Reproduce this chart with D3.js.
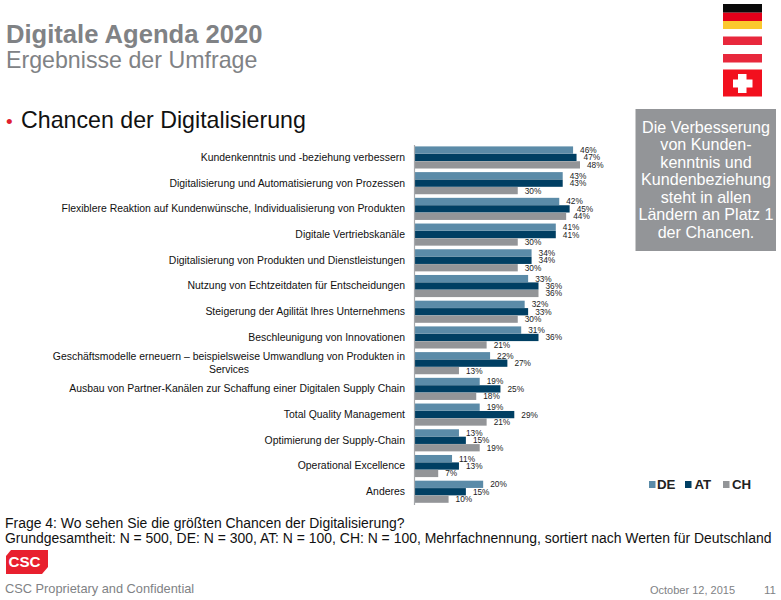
<!DOCTYPE html>
<html><head><meta charset="utf-8">
<script src="https://cdn.jsdelivr.net/npm/d3@7/dist/d3.min.js"></script>
<style>html,body{margin:0;padding:0;background:#fff}svg{display:block}text{font-family:"Liberation Sans",Arial,sans-serif}</style>
</head><body><svg id="c" width="781" height="600"></svg>
<script>
const categories=[
["Kundenkenntnis und -beziehung verbessern"],
["Digitalisierung und Automatisierung von Prozessen"],
["Flexiblere Reaktion auf Kundenwünsche, Individualisierung von Produkten"],
["Digitale Vertriebskanäle"],
["Digitalisierung von Produkten und Dienstleistungen"],
["Nutzung von Echtzeitdaten für Entscheidungen"],
["Steigerung der Agilität Ihres Unternehmens"],
["Beschleunigung von Innovationen"],
["Geschäftsmodelle erneuern – beispielsweise Umwandlung von Produkten in","Services"],
["Ausbau von Partner-Kanälen zur Schaffung einer Digitalen Supply Chain"],
["Total Quality Management"],
["Optimierung der Supply-Chain"],
["Operational Excellence"],
["Anderes"]];
const seriesNames=["DE","AT","CH"];
const DE=[46,43,42,41,34,33,32,31,22,19,19,13,11,20];
const AT=[47,43,45,41,34,36,33,36,27,25,29,15,13,15];
const CH=[48,30,44,30,30,36,30,21,13,18,21,19,7,10];
const colors=["#5b8ba8","#003f63","#939598"];
const values=[DE,AT,CH];
const calloutLines=["Die Verbesserung","von Kunden-","kenntnis und","Kundenbeziehung","steht in allen","Ländern an Platz 1","der Chancen."];

const svg=d3.select("#c");
const x=d3.scaleLinear().domain([0,48]).range([414,580]);
const y=d3.scaleBand().domain(d3.range(categories.length)).range([144.6,504.6]).paddingInner(0.14).paddingOuter(0.07);
const y1=d3.scaleBand().domain(d3.range(3)).range([0,y.bandwidth()]).paddingInner(0.02);

// header
const T=(px,py,s,size,fill,weight,anchor)=>svg.append("text").attr("x",px).attr("y",py).text(s).attr("font-size",size).attr("fill",fill).attr("font-weight",weight||"normal").attr("text-anchor",anchor||"start");
T(6,43,"Digitale Agenda 2020",25.6,"#808285","bold");
T(6,68,"Ergebnisse der Umfrage",23.2,"#808285");
T(6,128,"•",19,"#e0202f");
T(21,128,"Chancen der Digitalisierung",23.2,"#111");

// groups
const g=svg.selectAll("g.grp").data(categories).join("g").attr("class","grp").attr("transform",(d,i)=>`translate(0,${y(i)})`);
seriesNames.forEach((n,s)=>{
  g.append("rect").attr("x",x(0)).attr("y",y1(s)).attr("height",y1.bandwidth())
   .attr("width",(d,i)=>x(values[s][i])-x(0)).attr("fill",colors[s]);
  g.append("text").attr("x",(d,i)=>x(values[s][i])+7).attr("y",y1(s)+y1.bandwidth()/2+3)
   .text((d,i)=>values[s][i]+"%").attr("font-size",8.3).attr("fill","#222");
});
// category labels
g.each(function(d,i){
  const t=d3.select(this);
  const mid=y.bandwidth()/2;
  if(d.length===1){
    t.append("text").attr("x",405).attr("y",mid+3.4).attr("text-anchor","end").attr("font-size",10.45).attr("fill","#111").text(d[0]);
  }else{
    d.forEach((l,k)=>t.append("text").attr("x",k===0?405:229).attr("y",mid+3.4+(k-0.5)*12.4).attr("text-anchor",k===0?"end":"middle").attr("font-size",10.45).attr("fill","#111").text(l));
  }
});
// axis
svg.append("g").attr("transform",`translate(${x(0)},0)`).call(d3.axisLeft(y).tickValues([]).tickSize(0).tickSizeOuter(0)).call(a=>a.select(".domain").attr("stroke","#a7a9ac").attr("stroke-width",1.2));

// legend
const lx=[649,685,723], ltx=[657,694.5,732];
seriesNames.forEach((n,s)=>{
  svg.append("rect").attr("x",lx[s]).attr("y",481).attr("width",6.5).attr("height",7).attr("fill",colors[s]);
  T(ltx[s],489,n,13.3,"#222","bold");
});

// flags
const R=(a,b,w,h,f)=>svg.append("rect").attr("x",a).attr("y",b).attr("width",w).attr("height",h).attr("fill",f);
R(723,4,39,8.7,"#0a0a0a");R(723,12.7,39,8.3,"#e2001a");R(723,21,39,8,"#fbc82e");
R(723,36.5,39,8.5,"#e8283c");R(723,54,39,8.5,"#e8283c");
R(723,69.5,39,27,"#f2101e");R(738,74,8.5,19,"#fff");R(733,79.5,19.5,8,"#fff");

// callout
R(635.5,109,140.5,142,"#939598");
calloutLines.forEach((l,i)=>T(706,132.5+i*17.5,l,16.1,"#fff","normal","middle"));

// footer
T(5,528,"Frage 4: Wo sehen Sie die größten Chancen der Digitalisierung?",13.95,"#111");
T(5,543,"Grundgesamtheit: N = 500, DE: N = 300, AT: N = 100, CH: N = 100, Mehrfachnennung, sortiert nach Werten für Deutschland",13.95,"#111");
svg.append("path").attr("d","M11 550H48V567L42 574H6V556Z").attr("fill","#e8202e");
T(8.5,567,"CSC",15.2,"#fff","bold");
T(5,593,"CSC Proprietary and Confidential",12.8,"#808285");
T(650,594,"October 12, 2015",11,"#808285");
T(764,594,"11",11.5,"#808285");
</script></body></html>
